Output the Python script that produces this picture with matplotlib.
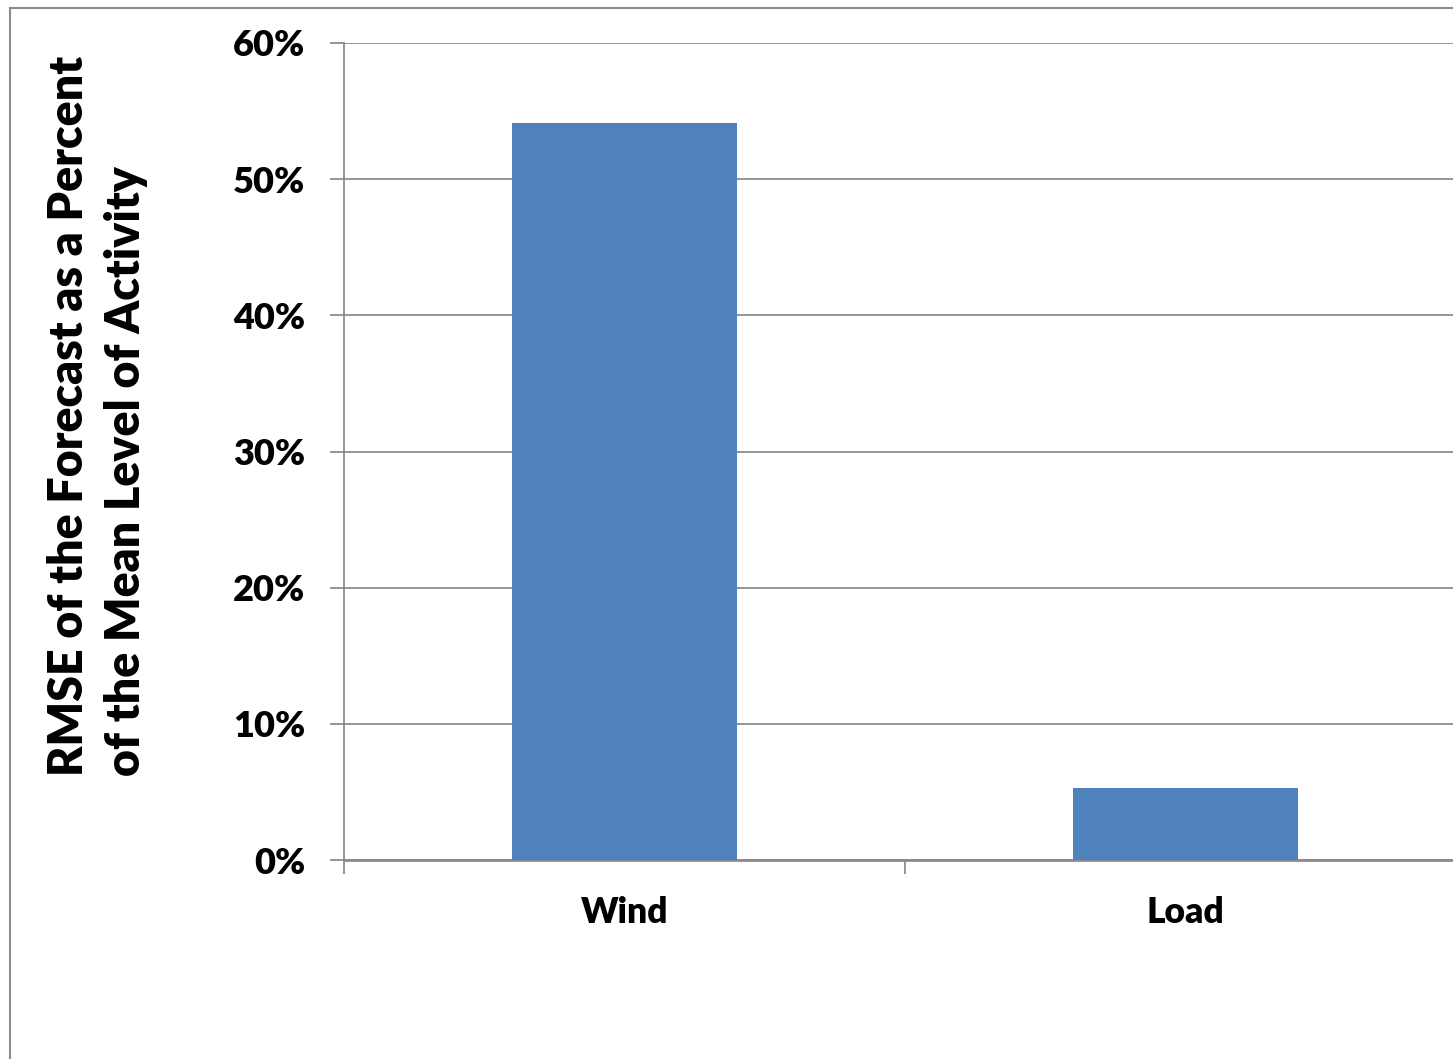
import matplotlib.pyplot as plt
from matplotlib.lines import Line2D
from matplotlib.ticker import FuncFormatter

# RMSE of the forecast relative to mean activity
categories = ["Wind", "Load"]
rmse_pct = [54.1, 5.3]
y_ticks = [0, 10, 20, 30, 40, 50, 60]

plt.rcParams['font.family'] = ['Lato', 'DejaVu Sans']
plt.rcParams['font.weight'] = 'heavy'

fig = plt.figure(figsize=(14.53, 10.59), dpi=100)

# outer chart frame (only top and left edges fall inside the image)
frame_x = 10 / 1453
frame_y = 1 - 8 / 1059
fig.lines.append(Line2D([frame_x, 1.0], [frame_y, frame_y], transform=fig.transFigure,
                        color="#8c8c8c", linewidth=1.5))
fig.lines.append(Line2D([frame_x, frame_x], [0.0, frame_y], transform=fig.transFigure,
                        color="#8c8c8c", linewidth=1.5))

ax = fig.add_axes([344 / 1453, 199 / 1059, 1122 / 1453, 817 / 1059])
ax.bar(range(len(categories)), rmse_pct, width=0.4, color="#4F81BD", zorder=3)

ax.set_xlim(-0.5, 1.5)
ax.set_ylim(0, 60)
ax.set_yticks(y_ticks)
ax.yaxis.set_major_formatter(FuncFormatter(lambda v, p: f"{v:.0f}%"))
ax.set_xticks([-0.5, 0.5, 1.5])
ax.set_xticklabels([])
ax.set_xticks(range(len(categories)), minor=True)
ax.set_xticklabels(categories, minor=True)

ax.grid(axis="y", color="#8c8c8c", linewidth=1.3, zorder=0)
for side in ["top", "right"]:
    ax.spines[side].set_visible(False)
ax.spines["left"].set_color("#8c8c8c")
ax.spines["left"].set_linewidth(1.3)
ax.spines["bottom"].set_color("#8c8c8c")
ax.spines["bottom"].set_linewidth(2)

ax.tick_params(axis="y", which="major", length=10, width=1.3, color="#8c8c8c",
               labelsize=26, pad=18)
ax.tick_params(axis="x", which="major", length=10, width=1.3, color="#8c8c8c")
ax.tick_params(axis="x", which="minor", length=0, labelsize=25.5, pad=26)

ax.set_ylabel("RMSE of the Forecast as a Percent\nof the Mean Level of Activity",
              fontsize=33.5, fontweight="heavy", linespacing=1.35,
              multialignment="left")
ax.yaxis.set_label_coords(-0.175, 0.543)

fig.savefig("out.png", dpi=100)
